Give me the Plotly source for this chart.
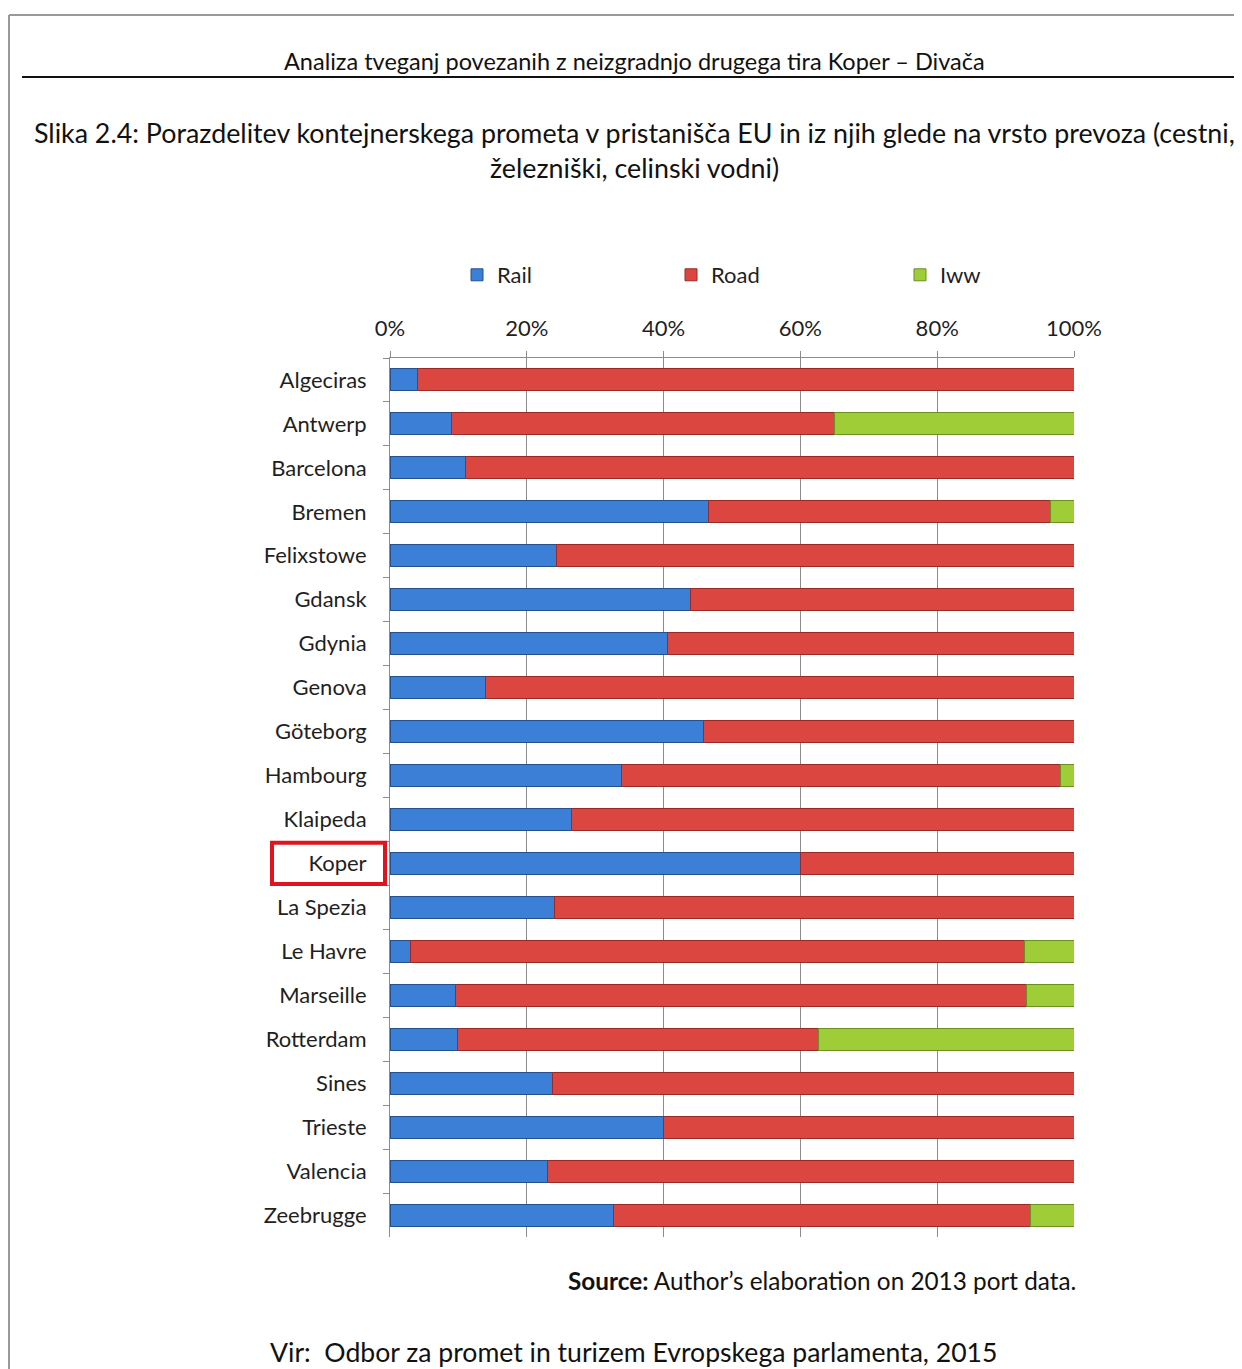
import plotly.graph_objects as go

ports = ["Algeciras", "Antwerp", "Barcelona", "Bremen", "Felixstowe", "Gdansk", "Gdynia",
         "Genova", "Göteborg", "Hambourg", "Klaipeda", "Koper", "La Spezia", "Le Havre",
         "Marseille", "Rotterdam", "Sines", "Trieste", "Valencia", "Zeebrugge"]
rail = [4, 9, 11, 46.5, 24.4, 44, 40.6, 13.9, 45.8, 33.8, 26.6, 60, 24, 3, 9.6, 9.8, 23.8, 40, 23, 32.7]
road = [96, 56, 89, 50, 75.6, 56, 59.4, 86.1, 54.2, 64.2, 73.4, 40, 76, 89.8, 83.4, 52.8, 76.2, 60, 77, 60.9]
iww = [0, 35, 0, 3.5, 0, 0, 0, 0, 0, 2, 0, 0, 0, 7.2, 7, 37.4, 0, 0, 0, 6.4]

OFF = 8  # page body margin of the html page
W, H = 1242 - OFF, 1369 - OFF
# plot area in screen pixels
L, R, T, B = 390, 1074, 358, 1237


def px(x):
    return (x - L) / (R - L)


def py(y):
    return (B - y) / (B - T)


FONT = "Lato"
TXT = "#1f1f1f"

fig = go.Figure()
series = [("Rail", rail, "#3b80d6", "#23508f", "legend", 457),
          ("Road", road, "#dc4640", "#9a2a26", "legend2", 671),
          ("Iww", iww, "#9fcd38", "#6a8f22", "legend3", 900)]
legends = {}
for name, vals, col, edge, lg, lx in series:
    fig.add_trace(go.Bar(y=ports, x=vals, name=name, orientation="h", legend=lg,
                         marker=dict(color=col, line=dict(color=edge, width=1))))
    legends[lg] = dict(orientation="h", x=px(lx), y=py(275), xanchor="left", yanchor="middle",
                       font=dict(size=22, color=TXT), bgcolor="rgba(0,0,0,0)")

fig.update_layout(
    barmode="stack",
    bargap=0.5,
    width=W, height=H,
    margin=dict(l=L - OFF, r=W - (R - OFF), t=T - OFF, b=H - (B - OFF)),
    paper_bgcolor="white", plot_bgcolor="white",
    font=dict(family=FONT, size=22, color=TXT),
    showlegend=True,
    xaxis=dict(side="top", range=[0, 100], tickvals=[0, 20, 40, 60, 80, 100],
               ticktext=["0%", "20%", "40%", "60%", "80%", "100%"],
               showgrid=True, gridcolor="#8c8c8c", gridwidth=1,
               showline=True, linecolor="#8c8c8c", linewidth=1,
               ticks="outside", ticklen=6, tickcolor="#8c8c8c",
               ticklabelstandoff=6, zeroline=False, fixedrange=True),
    yaxis=dict(autorange="reversed", type="category",
               showline=True, linecolor="#8c8c8c", linewidth=1,
               ticks="outside", ticklen=6, tickcolor="#8c8c8c", tickson="boundaries",
               ticklabelstandoff=18, showgrid=False, fixedrange=True),
    **legends,
)

# document frame
fig.add_shape(type="line", xref="paper", yref="paper", x0=px(9), x1=px(1242), y0=py(15), y1=py(15),
              line=dict(color="#9a9a9a", width=2))
fig.add_shape(type="line", xref="paper", yref="paper", x0=px(9), x1=px(9), y0=py(15), y1=py(1369),
              line=dict(color="#9a9a9a", width=2))
fig.add_shape(type="line", xref="paper", yref="paper", x0=px(22), x1=px(1242), y0=py(77), y1=py(77),
              line=dict(color="#111111", width=2))

# highlight box around Koper
k = ports.index("Koper")
fig.add_shape(type="rect", xref="paper", yref="y", x0=px(272), x1=px(385), y0=k - 0.47, y1=k + 0.47,
              line=dict(color="#e0141c", width=4))

ann = [
    dict(text="Analiza tveganj povezanih z neizgradnjo drugega tira Koper – Divača", x=px(634), y=py(61), size=23.5),
    dict(text="Slika 2.4: Porazdelitev kontejnerskega prometa v pristanišča EU in iz njih glede na vrsto prevoza (cestni,",
         x=px(634), y=py(133), size=26.8),
    dict(text="železniški, celinski vodni)", x=px(634), y=py(168), size=26.8),
]
for a in ann:
    fig.add_annotation(text=a["text"], x=a["x"], y=a["y"], xref="paper", yref="paper",
                       xanchor="center", yanchor="middle", showarrow=False,
                       font=dict(family=FONT, size=a["size"], color="#111111"))

fig.add_annotation(text="<b>Source:</b> Author’s elaboration on 2013 port data.", x=px(1078), y=py(1280),
                   xref="paper", yref="paper", xanchor="right", yanchor="middle", showarrow=False,
                   font=dict(family=FONT, size=24.3, color="#111111"))
fig.add_annotation(text="Vir:  Odbor za promet in turizem Evropskega parlamenta, 2015", x=px(268), y=py(1352),
                   xref="paper", yref="paper", xanchor="left", yanchor="middle", showarrow=False,
                   font=dict(family=FONT, size=26.6, color="#111111"))

fig.write_html("out.html")
